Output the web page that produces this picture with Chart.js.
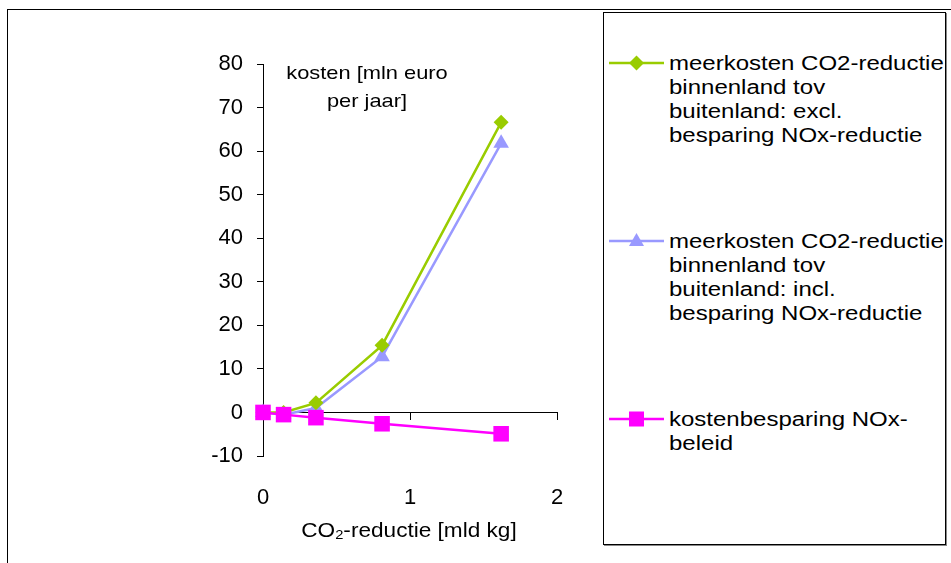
<!DOCTYPE html>
<html>
<head>
<meta charset="utf-8">
<script src="https://cdn.jsdelivr.net/npm/chart.js@4"></script>
<style>
  html, body { margin: 0; padding: 0; background: #fff; overflow: hidden; }
  body { width: 951px; height: 563px; position: relative; font-family: "Liberation Sans", Arial, sans-serif; color: #000; }
  #frame { position: absolute; left: 7px; top: 9px; width: 1000px; height: 600px; border: 1px solid #000; }
  #wrap { position: absolute; left: 0; top: 0; width: 600px; height: 563px; }
  .note { position: absolute; white-space: nowrap; transform-origin: center top; }
  #ylabel { left: 247px; width: 240px; top: 59px; text-align: center; font-size: 19px; line-height: 28px; transform: scaleX(1.15); }
  #xlabel { left: 289px; width: 240px; top: 518px; text-align: center; font-size: 20px; line-height: 24px; transform: scaleX(1.13); }
  #xlabel sub { font-size: 13px; line-height: 0; position: relative; top: 2px; vertical-align: baseline; }
  #legend { position: absolute; left: 603px; top: 12px; width: 343px; height: 533px; box-sizing: border-box;
            border: 1px solid #000; box-shadow: 1px 1px 0 #888; }
  .entry { position: absolute; left: 0; width: 340px; }
  .entry svg { position: absolute; left: 5px; top: -1px; }
  .entry .txt { position: absolute; left: 65px; top: 0; font-size: 20px; line-height: 24px; white-space: nowrap;
                transform: scaleX(1.2); transform-origin: left top; }
</style>
</head>
<body>
<div id="frame"></div>
<div id="wrap"><canvas id="chart"></canvas></div>
<div class="note" id="ylabel">kosten [mln euro<br>per jaar]</div>
<div class="note" id="xlabel">CO<sub>2</sub>-reductie [mld kg]</div>
<div id="legend"></div>
<script>
// CO2-reductie [mld kg] on the x axis
const reductie = [0, 0.14, 0.36, 0.81, 1.62];

// kosten [mln euro per jaar]
const exclNOx = [0, 0, 2.2, 15.4, 66.6];
const inclNOx = [0, -0.5, 1.0, 12.8, 61.8];
const besparingNOx = [0, -0.5, -1.2, -2.6, -4.9];

const labels = [
  "meerkosten CO2-reductie\nbinnenland tov\nbuitenland: excl.\nbesparing NOx-reductie",
  "meerkosten CO2-reductie\nbinnenland tov\nbuitenland: incl.\nbesparing NOx-reductie",
  "kostenbesparing NOx-\nbeleid",
];

const yTicks = [-10, 0, 10, 20, 30, 40, 50, 60, 70, 80];
const xTicks = [0, 1, 2];

const GREEN = "#99cc00";
const LAVENDER = "#9999ff";
const MAGENTA = "#ff00ff";
const FONT = { family: '"Liberation Sans", Arial, sans-serif', size: 22 };

const pts = (ys) => reductie.map((x, i) => ({ x, y: ys[i] }));

const series = [
  { data: exclNOx, color: GREEN, style: "rectRot", radius: 7.5, order: 1 },
  { data: inclNOx, color: LAVENDER, style: "triangle", radius: 9, order: 2 },
  { data: besparingNOx, color: MAGENTA, style: "rect", radius: 11, order: 0 },
];

new Chart(document.getElementById("chart"), {
  type: "line",
  data: {
    datasets: series.map((s, i) => ({
      label: labels[i],
      data: pts(s.data),
      borderColor: s.color,
      backgroundColor: s.color,
      borderWidth: 2.5,
      pointStyle: s.style,
      pointRadius: s.radius,
      pointBorderWidth: 0,
      pointBackgroundColor: s.color,
      order: s.order,
      clip: false,
      xAxisID: "x",
      yAxisID: "y",
    })),
  },
  options: {
    responsive: true, maintainAspectRatio: false, animation: false,
    layout: { padding: { top: 64, left: 0, right: 43, bottom: 57 } },
    plugins: { legend: { display: false }, tooltip: { enabled: false } },
    scales: {
      x: {
        type: "linear", position: "bottom", min: 0, max: 2,
        afterBuildTicks: (sc) => { sc.ticks = xTicks.map(v => ({ value: v })); },
        afterFit: (sc) => { sc.height = 50; },
        border: { display: false },
        grid: { display: false },
        ticks: { color: "#000", font: FONT, padding: 21 },
      },
      // the zero line with its tick marks
      x0: {
        type: "linear", axis: "x", position: { y: 0 }, min: 0, max: 2,
        afterBuildTicks: (sc) => { sc.ticks = xTicks.map(v => ({ value: v })); },
        border: { display: true, color: "#000", width: 1 },
        grid: { display: true, drawOnChartArea: false, tickLength: 7, tickColor: "#000" },
        ticks: { display: false },
      },
      y: {
        type: "linear", position: "left", min: -10, max: 80,
        afterBuildTicks: (sc) => { sc.ticks = yTicks.map(v => ({ value: v })); },
        afterFit: (sc) => { sc.width = 263; },
        border: { display: true, color: "#000", width: 1 },
        grid: { display: true, drawOnChartArea: false, tickLength: 6, tickColor: "#000" },
        ticks: { color: "#000", font: FONT, padding: 14 },
      },
    },
  },
});

// legend box at the right, drawn as html; tops are the y of each entry's first line
const legendTops = [50, 228, 406];
const host = document.getElementById("legend");
function symbol(s) {
  const c = s.color;
  let m = "";
  if (s.style === "rectRot") m = `<polygon points="27.5,5.5 35,13 27.5,20.5 20,13" fill="${c}"/>`;
  if (s.style === "triangle") m = `<polygon points="27.5,5 35,18 20,18" fill="${c}"/>`;
  if (s.style === "rect") m = `<rect x="20" y="5.5" width="15" height="15" fill="${c}"/>`;
  return `<svg width="55" height="26" viewBox="0 0 55 26"><line x1="0" y1="13" x2="55" y2="13" stroke="${c}" stroke-width="2.5"/>${m}</svg>`;
}
host.innerHTML = series.map((s, i) => `
  <div class="entry" style="top:${legendTops[i] - 12}px">
    ${symbol(s)}
    <div class="txt">${labels[i].split("\n").join("<br>")}</div>
  </div>`).join("");
</script>
</body>
</html>
